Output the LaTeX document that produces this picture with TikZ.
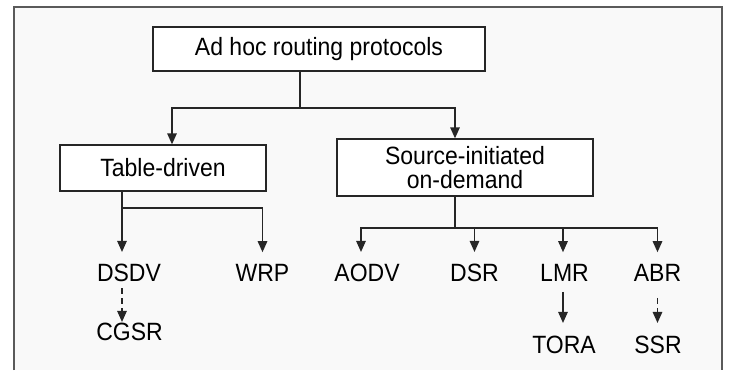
\documentclass[tikz,border=0pt]{standalone}
\usepackage{fontspec}
\setmainfont{Liberation Sans}[FakeStretch=0.92]
\usetikzlibrary{arrows.meta}
\definecolor{framegray}{HTML}{5A5A5A}
\definecolor{panel}{HTML}{F9F9F9}
\begin{document}
\begin{tikzpicture}[x=1pt,y=-1pt,
    every node/.style={font=\fontsize{25}{24}\selectfont},
    box/.style={draw=black!85,line width=1.3pt,fill=white,inner sep=0pt},
    lbl/.style={inner sep=0pt},
    ln/.style={draw=black!85,line width=1.3pt},
    arr/.style={ln,-{Triangle[length=11pt,width=9.5pt]}},
    dashline/.style={dash pattern=on 6pt off 4pt}]
    \useasboundingbox (0,0) rectangle (729,370);
    %% frame
    \fill[panel] (14,7) rectangle (722,370);
    \draw[framegray,line width=1.6pt] (14,370) -- (14,7) -- (722,7) -- (722,370);
    %% boxes
    \node[box,minimum width=332,minimum height=44] (root) at (319,49) {Ad hoc routing protocols};
    \node[box,minimum width=206,minimum height=46] (tbl) at (163,168) {Table-driven};
    \node[box,minimum width=256,minimum height=57,align=center] (src) at (465,167.5) {Source-initiated\\on-demand};
    %% protocols
    \node[lbl] (dsdv) at (129,273) {DSDV};
    \node[lbl] (wrp) at (262.5,273) {WRP};
    \node[lbl] (cgsr) at (129.5,332) {CGSR};
    \node[lbl] (aodv) at (367,273) {AODV};
    \node[lbl] (dsr) at (474.5,273) {DSR};
    \node[lbl] (lmr) at (564.5,273) {LMR};
    \node[lbl] (abr) at (657.5,273) {ABR};
    \node[lbl] (tora) at (564,345) {TORA};
    \node[lbl] (ssr) at (658,345) {SSR};
    %% root branches
    \coordinate (rj) at (300,108);
    \draw[ln] (root.south -| rj) -- (rj);
    \draw[arr] (rj) -| ([xshift=9pt]tbl.north);
    \draw[arr] (rj) -| ([xshift=-10pt]src.north);
    %% table-driven
    \coordinate (tj) at (122,208);
    \draw[arr,shorten >=12pt] (tbl.south -| tj) -- ([xshift=-7pt]dsdv.north);
    \draw[arr,shorten >=12pt] (tj) -| (wrp.north);
    \draw[arr,dashline,shorten <=6pt,shorten >=1pt] ([xshift=-7pt]dsdv.south) -- ([xshift=-7.5pt]cgsr.north);
    %% source-initiated
    \coordinate (sj) at (455,228);
    \draw[ln] (src.south -| sj) -- (sj);
    \draw[arr,shorten >=12pt] (sj) -| ([xshift=-6pt]aodv.north);
    \draw[arr,shorten >=12pt] (sj) -| (dsr.north);
    \draw[arr,shorten >=12pt] (sj) -| ([xshift=-1.5pt]lmr.north);
    \draw[arr,shorten >=12pt] (sj) -| (abr.north);
    \draw[arr,shorten <=10pt,shorten >=13pt] ([xshift=-1.5pt]lmr.south) -- ([xshift=-1pt]tora.north);
    \draw[arr,dashline,shorten <=16pt,shorten >=13pt] (abr.south) -- ([xshift=-0.5pt]ssr.north);
\end{tikzpicture}
\end{document}
